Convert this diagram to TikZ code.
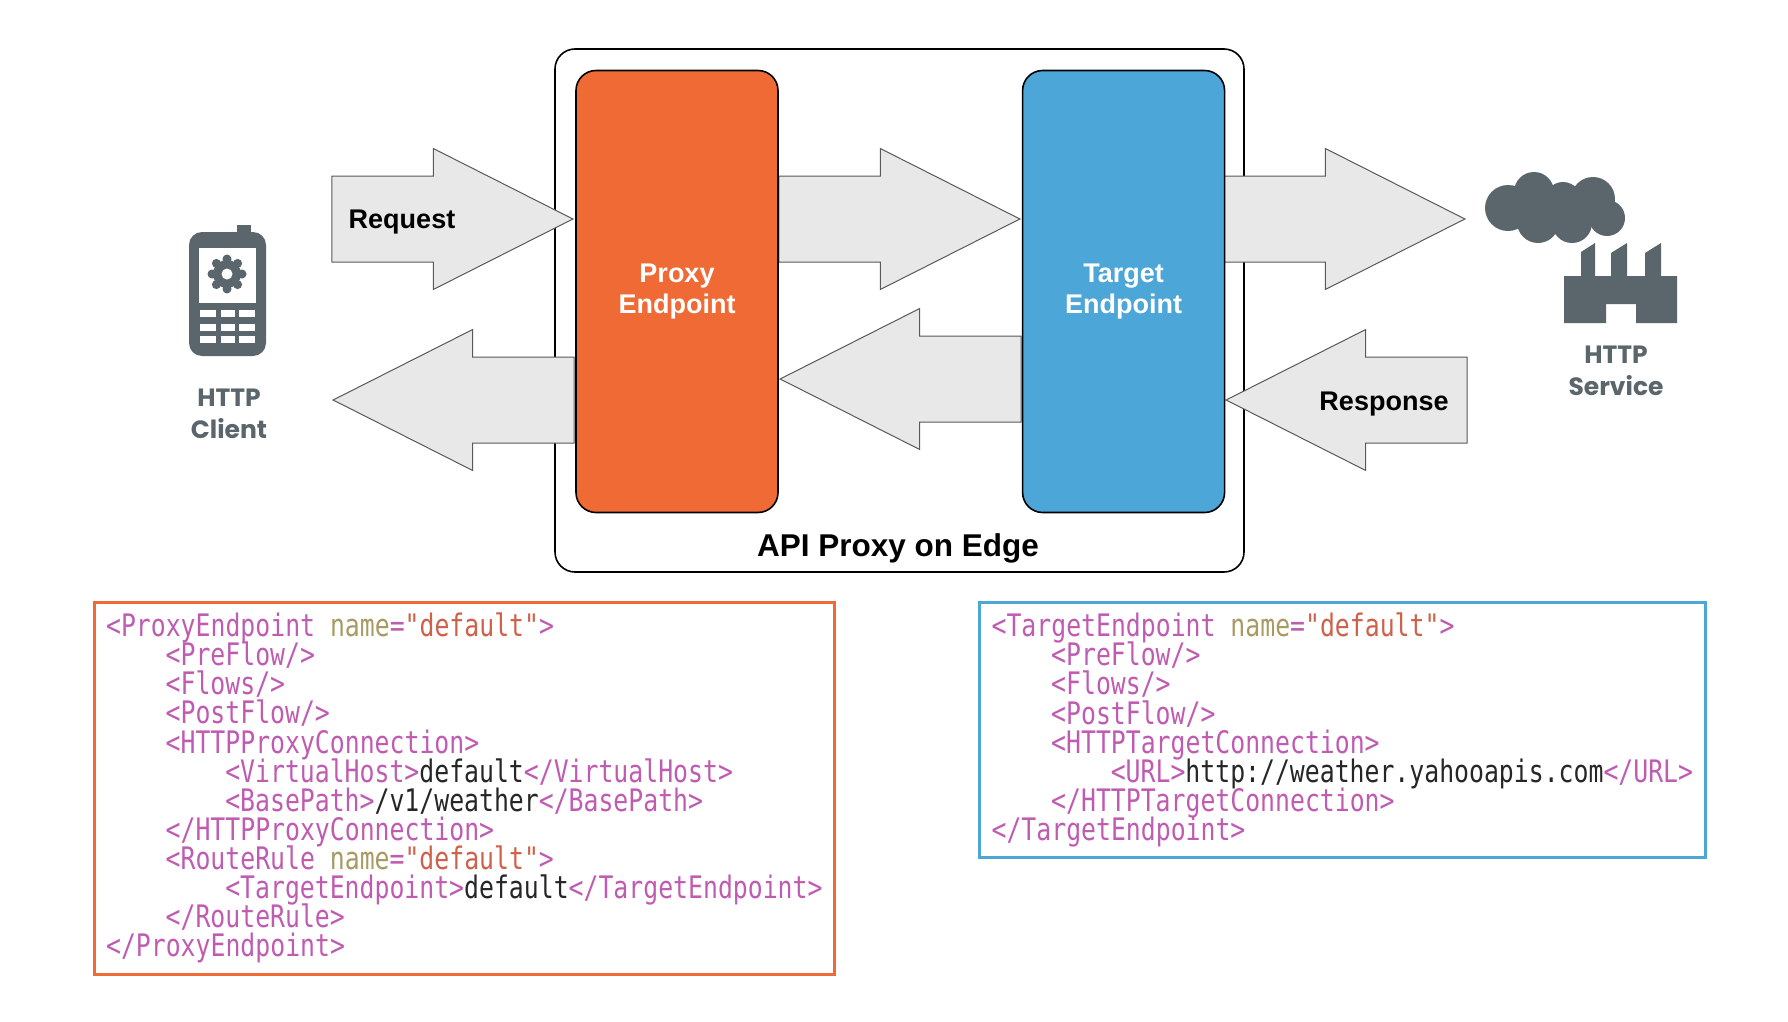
\documentclass[tikz,border=0pt]{standalone}
\usepackage{fontspec}
\setmainfont{Liberation Sans}
\newfontfamily\iconfont{Poppins}
\newfontfamily\codefont[FakeStretch=0.8]{DejaVu Sans Mono}
\usepackage{xcolor}
\usetikzlibrary{positioning, arrows.meta, shapes.arrows}
\definecolor{proxyorange}{HTML}{EF6A35}
\definecolor{targetblue}{HTML}{4DA6D8}
\definecolor{icongray}{HTML}{5A666B}
\definecolor{flowgray}{HTML}{E8E8E8}
\definecolor{tagpink}{HTML}{BF5CB2}
\definecolor{attrtan}{HTML}{A79A62}
\definecolor{valred}{HTML}{CE6149}
\definecolor{codeblack}{HTML}{262626}
\newcommand{\tg}[1]{\textcolor{tagpink}{#1}}
\newcommand{\an}[1]{\textcolor{attrtan}{#1}}
\newcommand{\av}[1]{\textcolor{valred}{#1}}
\newcommand{\gap}[1]{\hspace*{#1\dimexpr14.9pt\relax}}
\begin{document}
\begin{tikzpicture}[
  x=1pt, y=-1pt,
  endpoint/.style={rectangle, rounded corners=20pt, draw=black, line width=1.6pt, align=center, minimum width=202pt, minimum height=442pt, text=white, font=\fontsize{27}{31}\selectfont\bfseries},
  flowarrow/.style={single arrow, draw=black!65, line width=1pt, fill=flowgray, inner xsep=0pt, inner ysep=42.5pt, minimum height=241pt, minimum width=140pt, single arrow head extend=27.5pt, single arrow tip angle=53.6, single arrow head indent=0pt, anchor=tip},
  backarrow/.style={flowarrow, shape border rotate=180},
  flowlabel/.style={font=\fontsize{27}{31}\selectfont\bfseries},
  iconlabel/.style={align=center, text=icongray, font=\iconfont\fontsize{25}{32}\selectfont\bfseries},
  codebox/.style={rectangle, line width=3.2pt, anchor=north west, inner xsep=12pt, inner ysep=0pt, align=left, text=codeblack, font=\codefont\fontsize{31}{29.1}\selectfont, execute at begin node={\lineskiplimit=-40pt\relax}},
  icon/.style={fill=icongray, draw=none}
]
\useasboundingbox (0,0) rectangle (1788,1022);
% main box
\node[rectangle, rounded corners=20pt, draw=black, line width=1.6pt, minimum width=689pt, minimum height=523pt] (edge) at (899.5,310.5) {};
\node[font=\fontsize{31.5}{38}\selectfont\bfseries] (edgelabel) at (898,548) {API Proxy on Edge};
% flow arrows
\node[flowarrow] (reqin) at (574,219) {};
\node[flowarrow] (reqmid) at (1021,219) {};
\node[flowarrow] (reqout) at (1466,219) {};
\node[backarrow] (respin) at (1225,400) {};
\node[backarrow] (respmid) at (779,379) {};
\node[backarrow] (respout) at (332,400) {};
\node[flowlabel] (reqlabel) at (402,222) {Request};
\node[flowlabel] (resplabel) at (1384,404) {Response};
% endpoints
\node[endpoint, fill=proxyorange] (proxy) at (677,291.5) {Proxy\\Endpoint};
\node[endpoint, fill=targetblue, right=243pt of proxy] (target) {Target\\Endpoint};
% phone
\fill[icon] (237,225) rectangle (251,236);
\fill[icon, rounded corners=13pt] (189,232) rectangle (266,356);
\fill[white] (199,248) rectangle (256,303);
\fill[icon] (227,274) circle[radius=14pt];
\foreach \a in {0,45,...,315}
  \fill[icon] (227,274) ++(\a:15pt) circle[radius=4.5pt];
\fill[white] (227,274) circle[radius=5.5pt];
\foreach \ky in {310,324,336}
  \foreach \kx/\kw in {200/16,221/14,239/16}
    \fill[white] (\kx,\ky) rectangle ++(\kw,7);
\node[iconlabel] (client) at (229,414) {HTTP\\Client};
% cloud and factory
\foreach \cx/\cy/\cr in {1508/208/23,1534/192/20,1538/222/21,1563/200/18,1572/223/20,1593/199/22,1607/218/18}
  \fill[icon] (\cx,\cy) circle[radius=\cr pt];
\fill[icon] (1564,323) -- (1564,276) -- (1581,276) -- (1581,252) -- (1595,243) -- (1595,276) -- (1611,276) -- (1611,253) -- (1627,243) -- (1627,276) -- (1645,276) -- (1645,253) -- (1661,243) -- (1661,276) -- (1677,276) -- (1677,323) -- (1636,323) -- (1636,304) -- (1606,304) -- (1606,323) -- cycle;
\node[iconlabel] (service) at (1616,371) {HTTP\\Service};
% code
\node[codebox, draw=proxyorange, text width=716pt, minimum height=372pt] (proxycode) at (92.5,600.5) {%
\tg{<ProxyEndpoint}\gap{1}\an{name}\tg{=}\av{"default"}\tg{>}\\
\gap{4}\tg{<PreFlow/>}\\
\gap{4}\tg{<Flows/>}\\
\gap{4}\tg{<PostFlow/>}\\
\gap{4}\tg{<HTTPProxyConnection>}\\
\gap{8}\tg{<VirtualHost>}default\tg{</VirtualHost>}\\
\gap{8}\tg{<BasePath>}/v1/weather\tg{</BasePath>}\\
\gap{4}\tg{</HTTPProxyConnection>}\\
\gap{4}\tg{<RouteRule}\gap{1}\an{name}\tg{=}\av{"default"}\tg{>}\\
\gap{8}\tg{<TargetEndpoint>}default\tg{</TargetEndpoint>}\\
\gap{4}\tg{</RouteRule>}\\
\tg{</ProxyEndpoint>}};
\node[codebox, draw=targetblue, text width=702pt, minimum height=255pt] (targetcode) at (978,601) {%
\tg{<TargetEndpoint}\gap{1}\an{name}\tg{=}\av{"default"}\tg{>}\\
\gap{4}\tg{<PreFlow/>}\\
\gap{4}\tg{<Flows/>}\\
\gap{4}\tg{<PostFlow/>}\\
\gap{4}\tg{<HTTPTargetConnection>}\\
\gap{8}\tg{<URL>}http://weather.yahooapis.com\tg{</URL>}\\
\gap{4}\tg{</HTTPTargetConnection>}\\
\tg{</TargetEndpoint>}};
\end{tikzpicture}
\end{document}
